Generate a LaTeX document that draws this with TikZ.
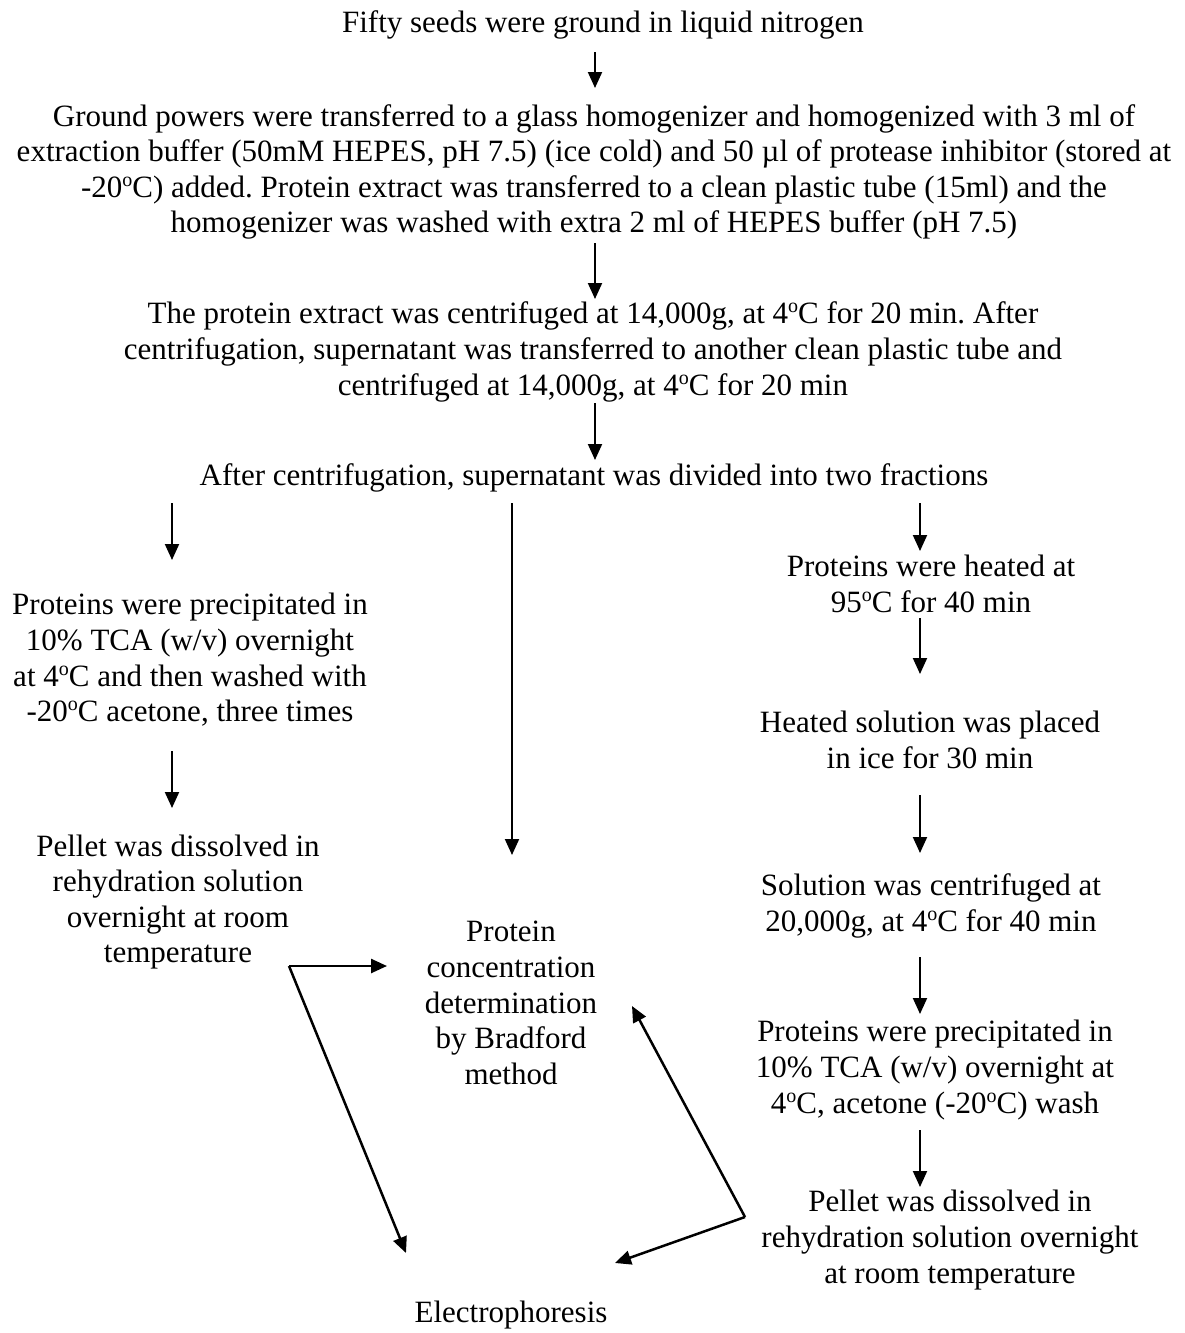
\documentclass[tikz,border=0pt]{standalone}
\usepackage{fontspec}
\setmainfont{Liberation Serif}
\usetikzlibrary{arrows.meta}
\newcommand{\dg}{\raisebox{11pt}{\fontsize{20}{20}\selectfont o}}
\begin{document}
\frenchspacing
\begin{tikzpicture}[x=1pt,y=-1pt,
  txt/.style={inner sep=0pt, align=center, font=\fontsize{31}{35.6}\selectfont\frenchspacing},
  arr/.style={line width=2pt, -{Triangle[length=16pt,width=14pt]}},
  ln/.style={line width=2.5pt}]
\useasboundingbox (0,0) rectangle (1185,1333);
\coordinate (colM) at (595,0);
\coordinate (colL) at (172,0);
\coordinate (colC) at (512,0);
\coordinate (colR) at (920,0);

\node[txt] (fifty) at (603,25) {Fifty seeds were ground in liquid nitrogen};
\node[txt] (ground) at (594,172) {Ground powers were transferred to a glass homogenizer and homogenized with 3 ml of\\
extraction buffer (50mM HEPES, pH 7.5) (ice cold) and 50 µl of protease inhibitor (stored at\\
-20\dg C) added. Protein extract was transferred to a clean plastic tube (15ml) and the\\
homogenizer was washed with extra 2 ml of HEPES buffer (pH 7.5)};
\node[txt] (centr) at (593,352) {The protein extract was centrifuged at 14,000g, at 4\dg C for 20 min. After\\
centrifugation, supernatant was transferred to another clean plastic tube and\\
centrifuged at 14,000g, at 4\dg C for 20 min};
\node[txt] (after) at (594,478) {After centrifugation, supernatant was divided into two fractions};
\node[txt] (lprec) at (190,660) {Proteins were precipitated in\\10\% TCA (w/v) overnight\\at 4\dg C and then washed with\\-20\dg C acetone, three times};
\node[txt] (lpel) at (178,902) {Pellet was dissolved in\\rehydration solution\\overnight at room\\temperature};
\node[txt] (prot) at (511,1003) {Protein\\concentration\\determination\\by Bradford\\method};
\node[txt] (heat) at (931,584) {Proteins were heated at\\95\dg C for 40 min};
\node[txt] (ice) at (930,740) {Heated solution was placed\\in ice for 30 min};
\node[txt] (sol) at (931,906) {Solution was centrifuged at\\20,000g, at 4\dg C for 40 min};
\node[txt] (rprec) at (935,1070) {Proteins were precipitated in\\10\% TCA (w/v) overnight at\\4\dg C, acetone (-20\dg C) wash};
\node[txt] (rpel) at (950,1240) {Pellet was dissolved in\\rehydration solution overnight\\at room temperature};
\node[txt] (elec) at (511,1315) {Electrophoresis};

% main column
\draw[arr] ([yshift=-27pt]fifty.center -| colM) -- ([yshift=84pt]ground.center -| colM);
\draw[arr] ([yshift=-71pt]ground.center -| colM) -- ([yshift=53pt]centr.center -| colM);
\draw[arr] ([yshift=-51pt]centr.center -| colM) -- ([yshift=18pt]after.center -| colM);
% branches
\draw[arr] ([yshift=-25pt]after.center -| colL) -- ([yshift=100pt]lprec.center -| colL);
\draw[arr] ([yshift=-25pt]after.center -| colC) -- ([yshift=148pt]prot.center -| colC);
\draw[arr] ([yshift=-25pt]after.center -| colR) -- ([yshift=33pt]heat.center -| colR);
% right column
\draw[arr] ([yshift=-34pt]heat.center -| colR) -- ([yshift=66pt]ice.center -| colR);
\draw[arr] ([yshift=-55pt]ice.center -| colR) -- ([yshift=53pt]sol.center -| colR);
\draw[arr] ([yshift=-51pt]sol.center -| colR) -- ([yshift=56pt]rprec.center -| colR);
\draw[arr] ([yshift=-60pt]rprec.center -| colR) -- ([yshift=53pt]rpel.center -| colR);
% left column
\draw[arr] ([yshift=-91pt]lprec.center -| colL) -- ([yshift=94pt]lpel.center -| colL);
% left junction
\coordinate (jl) at ([xshift=111pt,yshift=-64pt]lpel.center);
\draw[arr,ln] (jl) -- ([xshift=-124pt,yshift=37pt]prot.center);
\draw[arr,ln] (jl) -- ([xshift=-105pt,yshift=62pt]elec.center);
% right junction
\coordinate (jr) at ([xshift=-205pt,yshift=23pt]rpel.center);
\draw[arr,ln] (jr) -- ([xshift=121pt,yshift=-3pt]prot.center);
\draw[arr,ln] (jr) -- ([xshift=104pt,yshift=52pt]elec.center);
\end{tikzpicture}
\end{document}
